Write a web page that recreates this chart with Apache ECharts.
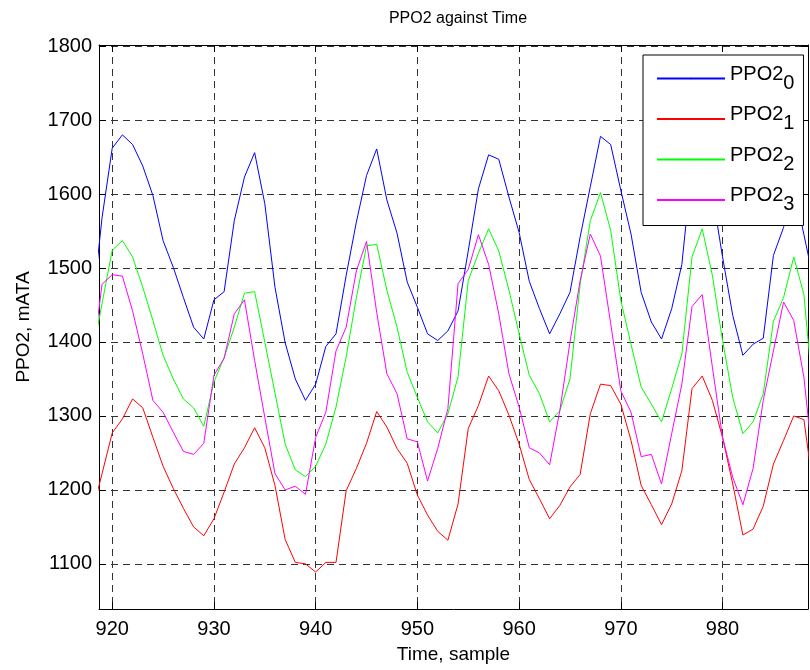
<!DOCTYPE html>
<html><head><meta charset="utf-8">
<script src="https://cdn.jsdelivr.net/npm/echarts@6/dist/echarts.min.js"></script>
<style>html,body{margin:0;padding:0;background:#fff}#c{width:810px;height:670px}</style>
</head><body><div id="c"></div>
<script>
const samples = [918,919,920,921,922,923,924,925,926,927,928,929,930,931,932,933,934,935,936,937,938,939,940,941,942,943,944,945,946,947,948,949,950,951,952,953,954,955,956,957,958,959,960,961,962,963,964,965,966,967,968,969,970,971,972,973,974,975,976,977,978,979,980,981,982,983,984,985,986,987,988,989];
const ppo2_0 = [1440,1568,1662,1680,1667,1638,1598,1537,1501,1460,1420,1404,1457,1468,1564,1623,1656,1587,1474,1399,1350,1321,1343,1394,1411,1490,1562,1625,1661,1592,1547,1481,1447,1411,1402,1415,1442,1523,1607,1653,1647,1596,1548,1482,1445,1411,1438,1467,1542,1610,1678,1667,1605,1546,1467,1427,1404,1445,1505,1640,1655,1600,1515,1436,1382,1397,1405,1517,1555,1610,1545,1480];
const ppo2_1 = [1168,1222,1277,1296,1323,1311,1271,1232,1202,1175,1150,1138,1161,1197,1235,1257,1284,1257,1206,1133,1102,1100,1089,1102,1102,1199,1229,1263,1306,1285,1256,1236,1193,1166,1144,1132,1181,1283,1314,1354,1334,1301,1262,1214,1188,1161,1179,1204,1221,1303,1343,1341,1316,1267,1206,1180,1153,1181,1226,1337,1354,1321,1271,1208,1139,1147,1178,1235,1267,1300,1295,1193];
const ppo2_2 = [1380,1452,1524,1537,1515,1474,1429,1382,1350,1323,1311,1286,1346,1379,1420,1466,1468,1400,1331,1262,1227,1218,1232,1262,1312,1380,1460,1530,1532,1470,1420,1359,1325,1292,1277,1303,1353,1483,1520,1553,1523,1470,1411,1355,1330,1292,1307,1350,1478,1564,1602,1551,1456,1397,1339,1316,1292,1337,1384,1515,1553,1490,1402,1325,1276,1292,1330,1428,1460,1515,1464,1312];
const ppo2_3 = [1370,1478,1491,1489,1442,1384,1321,1305,1278,1252,1248,1263,1355,1378,1438,1457,1375,1298,1222,1200,1205,1194,1271,1305,1388,1420,1496,1536,1440,1357,1330,1269,1265,1212,1256,1310,1479,1498,1545,1505,1438,1357,1312,1257,1250,1234,1307,1400,1483,1546,1516,1425,1334,1305,1245,1248,1208,1276,1343,1448,1464,1366,1271,1217,1180,1229,1321,1388,1454,1429,1352,1222];
const seriesNames = ['PPO2_0','PPO2_1','PPO2_2','PPO2_3'];
const seriesColors = ['#0000ff','#ff0000','#00ff00','#ff00ff'];
const xTicks = [920,930,940,950,960,970,980];
const yTicks = [1100,1200,1300,1400,1500,1600,1700,1800];
const titleText = 'PPO2 against Time';
const xName = 'Time, sample';
const yName = 'PPO2, mATA';

const FONT = 'Liberation Sans, Arial, Helvetica, sans-serif';
const allSeries = [ppo2_0, ppo2_1, ppo2_2, ppo2_3];
const chart = echarts.init(document.getElementById('c'), null, {renderer: 'canvas'});

const gridDash = {show: true, lineStyle: {color: '#333', width: 1, type: [7, 5]}};
const plain = function (v) { return String(v); };
function mainX(pos, labels) {
  return {
    type: 'value', position: pos, min: 918.7, max: 988.4,
    axisLine: {show: true, onZero: false, lineStyle: {color: '#000', width: 1}},
    axisTick: {show: true, inside: true, length: 7, customValues: xTicks, lineStyle: {color: '#000'}},
    axisLabel: {show: labels, customValues: xTicks, formatter: plain, margin: 10, color: '#000', fontSize: 20, fontFamily: FONT},
    splitLine: labels ? gridDash : {show: false},
    name: labels ? xName : '', nameLocation: 'middle', nameGap: 36,
    nameTextStyle: {fontSize: 19, color: '#000', fontFamily: FONT}
  };
}
function mainY(pos, labels) {
  return {
    type: 'value', position: pos, min: 1039, max: 1801.5,
    axisLine: {show: true, onZero: false, lineStyle: {color: '#000', width: 1}},
    axisTick: {show: true, inside: true, length: 7, customValues: yTicks, lineStyle: {color: '#000'}},
    axisLabel: {show: labels, customValues: yTicks, formatter: plain, margin: 7, color: '#000', fontSize: 20, fontFamily: FONT},
    splitLine: labels ? gridDash : {show: false},
    name: labels ? yName : '', nameLocation: 'middle', nameGap: 66, nameRotate: 90,
    nameTextStyle: {fontSize: 19, color: '#000', fontFamily: FONT}
  };
}

const option = {
  animation: false,
  backgroundColor: '#fff',
  title: {text: titleText, left: 453, top: 6, textAlign: 'center',
    textStyle: {fontSize: 16, fontWeight: 'normal', color: '#000', fontFamily: FONT}},
  grid: {left: 99, right: 2, top: 45, bottom: 61, containLabel: false},
  xAxis: [mainX('bottom', true), mainX('top', false)],
  yAxis: [mainY('left', true), mainY('right', false)],
  legend: {
    data: seriesNames, left: 643, top: 55, orient: 'vertical',
    backgroundColor: '#fff', borderColor: '#000', borderWidth: 1,
    padding: [9, 9, 11, 13], itemGap: 11.5, itemWidth: 68, itemHeight: 2,
    selectedMode: false,
    formatter: function (n) { const p = n.split('_'); return '{a|' + p[0] + '}{s|' + p[1] + '}'; },
    textStyle: {color: '#000', fontFamily: FONT, fontSize: 20,
      rich: {a: {fontSize: 20, fontFamily: FONT, color: '#000', verticalAlign: 'top'},
             s: {fontSize: 20, fontFamily: FONT, color: '#000', verticalAlign: 'bottom', padding: [9, 0, 0, 0]}}}
  },
  series: seriesNames.map(function (nm, i) {
    return {
      name: nm, type: 'line', symbol: 'none', clip: true,
      xAxisIndex: 0, yAxisIndex: 0,
      lineStyle: {color: seriesColors[i], width: 1},
      itemStyle: {color: seriesColors[i]},
      data: samples.map(function (s, k) { return [s, allSeries[i][k]]; })
    };
  })
};
chart.setOption(option);
</script></body></html>
